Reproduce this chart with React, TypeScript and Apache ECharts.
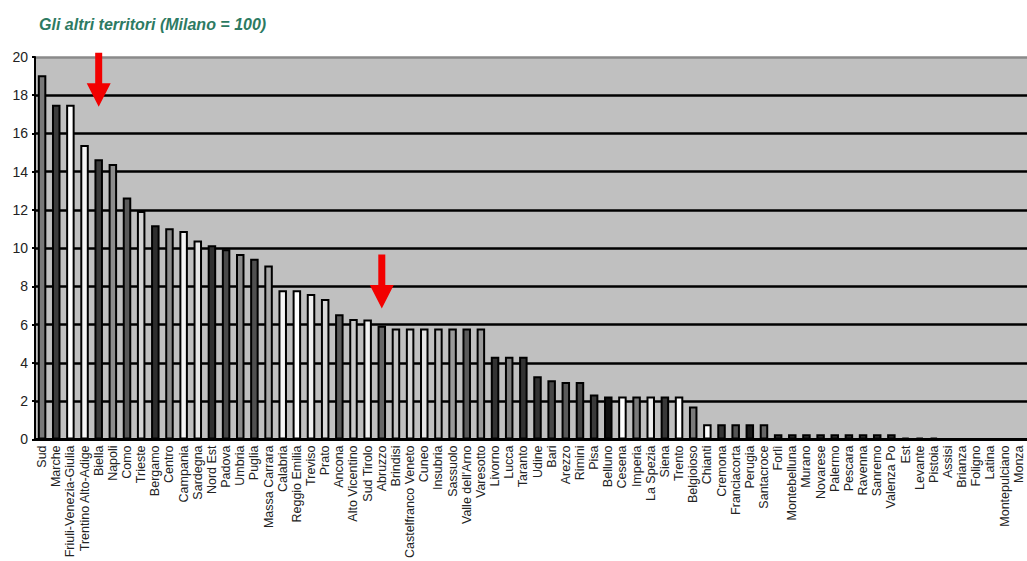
import React, { useEffect, useRef } from "react";
import * as echarts from "echarts";

const categories = [
  "Sud", "Marche", "Friuli-Venezia-Giulia", "Trentino Alto-Adige", "Biella", "Napoli", "Como", "Trieste",
  "Bergamo", "Centro", "Campania", "Sardegna", "Nord Est", "Padova", "Umbria", "Puglia", "Massa Carrara",
  "Calabria", "Reggio Emilia", "Treviso", "Prato", "Ancona", "Alto Vicentino", "Sud Tirolo", "Abruzzo",
  "Brindisi", "Castelfranco Veneto", "Cuneo", "Insubria", "Sassuolo", "Valle dell'Arno", "Varesotto",
  "Livorno", "Lucca", "Taranto", "Udine", "Bari", "Arezzo", "Rimini", "Pisa", "Belluno", "Cesena",
  "Imperia", "La Spezia", "Siena", "Trento", "Belgioioso", "Chianti", "Cremona", "Franciacorta", "Perugia",
  "Santacroce", "Forlì", "Montebelluna", "Murano", "Novarese", "Palermo", "Pescara", "Ravenna", "Sanremo",
  "Valenza Po", "Est", "Levante", "Pistoia", "Assisi", "Brianza", "Foligno", "Latina", "Montepulciano",
  "Monza", "Romagna",
];

const values = [
  19.05, 17.5, 17.5, 15.4, 14.65, 14.4, 12.65, 11.95,
  11.2, 11.05, 10.9, 10.4, 10.15, 9.95, 9.7, 9.45, 9.1,
  7.8, 7.8, 7.6, 7.35, 6.55, 6.3, 6.27, 5.95,
  5.8, 5.8, 5.8, 5.8, 5.8, 5.8, 5.8,
  4.33, 4.33, 4.33, 3.3, 3.1, 3.0, 3.0, 2.35, 2.25, 2.25,
  2.25, 2.25, 2.25, 2.25, 1.72, 0.8, 0.8, 0.8, 0.8,
  0.8, 0.27, 0.27, 0.27, 0.27, 0.27, 0.27, 0.27, 0.27,
  0.27, 0.1, 0.1, 0.1, 0.03, 0.03, 0.05, 0.05, 0.03,
  0.03, 0.03,
];

const shades = [
  "#787878", "#3c3c3c", "#ffffff", "#f4f4f4", "#3a3a3a", "#8c8c8c", "#5a5a5a", "#d4d4d4",
  "#2e2e2e", "#8a8a8a", "#f4f4f4", "#e6e6e6", "#303030", "#4a4a4a", "#8a8a8a", "#505050", "#a8a8a8",
  "#f6f6f6", "#ffffff", "#f0f0f0", "#d8d8d8", "#5a5a5a", "#c8c8c8", "#f2f2f2", "#666666",
  "#c4c4c4", "#d6d6d6", "#e4e4e4", "#bcbcbc", "#9a9a9a", "#5c5c5c", "#9a9a9a",
  "#333333", "#7a7a7a", "#333333", "#333333", "#484848", "#5a5a5a", "#444444", "#3a3a3a", "#111111", "#ffffff",
  "#7a7a7a", "#eeeeee", "#383838", "#ffffff", "#7a7a7a", "#ffffff", "#353535", "#555555", "#1a1a1a",
  "#666666", "#333333", "#333333", "#333333", "#333333", "#333333", "#333333", "#333333", "#333333",
  "#333333", "#222222", "#222222", "#222222", "#e0e0e0", "#e0e0e0", "#f0f0f0", "#f0f0f0", "#e0e0e0",
  "#e0e0e0", "#e0e0e0",
];

const yTicks = [0, 2, 4, 6, 8, 10, 12, 14, 16, 18, 20];

const arrowCategories = ["Biella", "Abruzzo"];
const arrowTips = [17.4, 6.85];

const title = "Gli altri territori (Milano = 100)";

const ARROW = "path://M8.5,0 L15.5,0 L15.5,31 L24,31 L12,55 L0,31 L8.5,31 Z";

export default function App() {
  const ref = useRef<HTMLDivElement>(null);

  useEffect(() => {
    if (!ref.current) return;
    const chart = echarts.init(ref.current, null, { renderer: "svg" });
    const font = "'Liberation Sans', Arial, sans-serif";
    const splitColors = yTicks.map((t) => (t === 20 ? "#8a8a8a" : "#000000"));
    chart.setOption({
      animation: false,
      backgroundColor: "#ffffff",
      title: {
        text: title,
        left: 34,
        top: 11,
        textStyle: {
          fontFamily: font,
          fontSize: 16,
          fontStyle: "italic",
          fontWeight: "bold",
          color: "#2d7a62",
        },
      },
      grid: {
        left: 35,
        top: 57,
        bottom: 121,
        right: 0,
        show: true,
        backgroundColor: "#c0c0c0",
        borderWidth: 0,
        containLabel: false,
      },
      xAxis: {
        type: "category",
        data: categories,
        boundaryGap: true,
        axisLine: { show: true, lineStyle: { color: "#000", width: 3 } },
        axisTick: { show: false },
        axisLabel: {
          interval: 0,
          rotate: 90,
          margin: 6,
          fontFamily: font,
          fontSize: 12.5,
          color: "#222",
        },
      },
      yAxis: {
        type: "value",
        min: 0,
        max: 20,
        interval: 2,
        axisLine: { show: true, lineStyle: { color: "#000", width: 2 } },
        axisTick: { show: true, length: 3, lineStyle: { color: "#000", width: 2 } },
        axisLabel: { margin: 7, fontFamily: font, fontSize: 14, color: "#222" },
        splitLine: { show: true, lineStyle: { color: splitColors, width: 2.5 } },
      },
      series: [
        {
          type: "bar",
          data: values.map((v, i) => ({
            value: v,
            itemStyle: { color: shades[i] },
          })),
          barWidth: 8.5,
          itemStyle: { borderColor: "#000", borderWidth: 2 },
          silent: true,
          markPoint: {
            silent: true,
            symbol: ARROW,
            symbolSize: [24, 54],
            symbolOffset: [0, "-50%"],
            itemStyle: { color: "#f20000" },
            label: { show: false },
            data: arrowCategories.map((c, i) => ({ coord: [c, arrowTips[i]] })),
          },
        },
      ],
    });
    return () => chart.dispose();
  }, []);

  return (
    <div style={{ position: "fixed", left: 0, top: 0, width: 1027, height: 561, overflow: "hidden" }}>
      <div ref={ref} style={{ width: 1040, height: 561 }} />
    </div>
  );
}
